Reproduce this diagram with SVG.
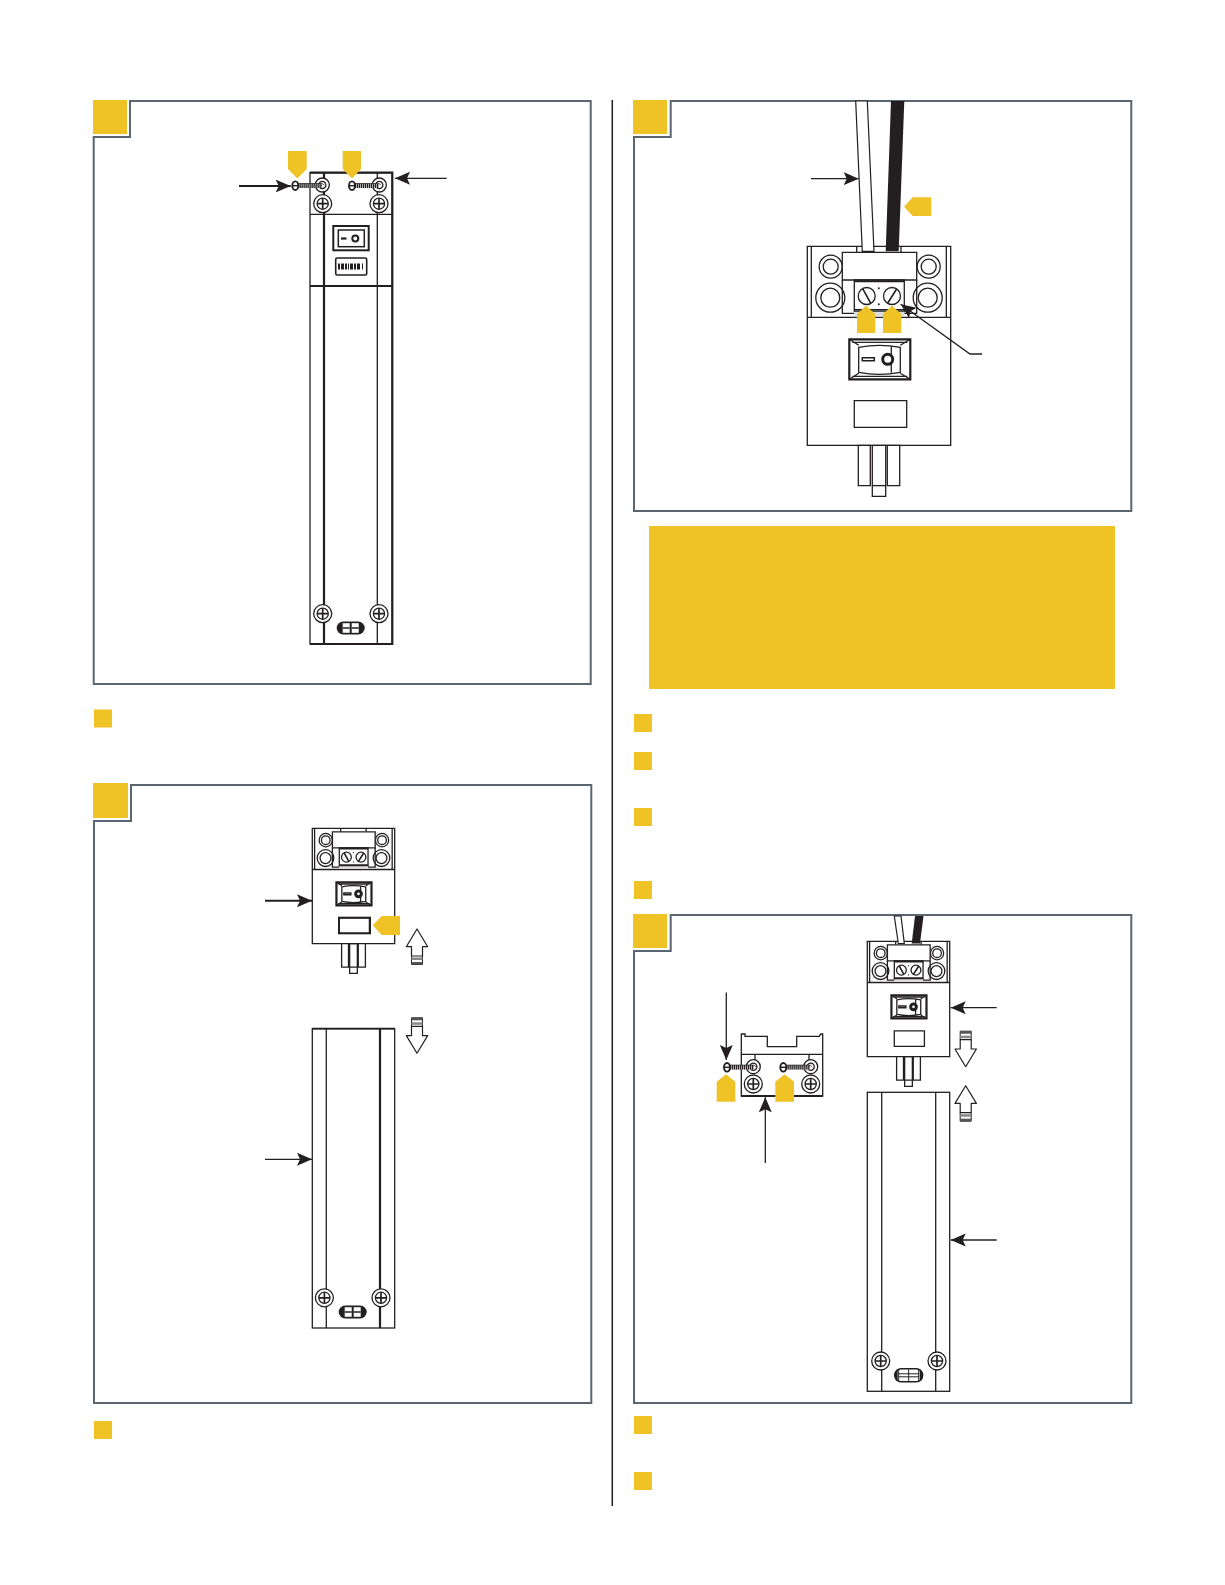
<svg xmlns="http://www.w3.org/2000/svg" xmlns:xlink="http://www.w3.org/1999/xlink" width="1225" height="1585" viewBox="0 0 1225 1585">
<style>
.frame{fill:none;stroke:#5a6670;stroke-width:2}
.y{fill:#efc226}
.k{fill:none;stroke:#231f20;stroke-width:1.3}
.w{fill:#fff;stroke:#231f20;stroke-width:1.3}
.t{fill:none;stroke:#231f20;stroke-width:2.2}
.n{vector-effect:non-scaling-stroke}
.arrow{fill:none;stroke:#231f20;stroke-width:1.3;marker-end:url(#head)}
.arrowb{fill:none;stroke:#231f20;stroke-width:1.9;marker-end:url(#head)}
</style>
<defs>
<marker id="head" markerUnits="userSpaceOnUse" markerWidth="17" markerHeight="14" refX="15" refY="7" orient="auto" viewBox="0 0 17 14"><path d="M0 .5 L15 7 L0 13.5 L3 7Z" fill="#231f20"/></marker>
<g id="ph"><circle r="9" class="w"/><circle r="5.6" class="k"/><path d="M-5.5 0H5.5M0-5.5V5.5" fill="none" stroke="#231f20" stroke-width="1.7"/></g>
<g id="washer"><circle r="7" class="w"/><circle r="3.6" class="k"/></g>
<g id="screw"><path d="M3 0H27" fill="none" stroke="#aaa" stroke-width="4.5"/><path d="M3 0H27" fill="none" stroke="#231f20" stroke-width="4.5" stroke-dasharray="1 1"/><path d="M3 -2.2H27L29-0.5" fill="none" stroke="#231f20" stroke-width=".7"/><ellipse rx="3" ry="4.3" fill="#fff" stroke="#231f20" stroke-width="1.9"/><path d="M-3 0H3" stroke="#231f20" stroke-width="1.4"/></g>
<g id="ovalDark"><rect x="-14" y="-6.5" width="28" height="13" rx="6.5" fill="#231f20"/><rect x="-8" y="-4.8" width="7" height="9.6" fill="#fff"/><rect x="1" y="-4.8" width="7" height="9.6" fill="#fff"/><path d="M-8 0H-1M1 0H8" stroke="#231f20" stroke-width="1.5"/></g>
<g id="ovalLight"><rect x="-14" y="-6.5" width="28" height="13" rx="6.5" fill="#fff" stroke="#231f20" stroke-width="1.4"/><path d="M-10-6V6M10-6V6M0-6V6M-10-1.5H10M-10 1.5H10" stroke="#231f20" stroke-width="1" fill="none"/><path d="M-14 0a3 6 0 0 1 3-6V6a3 6 0 0 1-3-6M14 0a3 6 0 0 0-3-6V6a3 6 0 0 0 3-6" fill="#231f20"/></g>
<g id="up"><path d="M0 0L10.7 17.7H5.5V27H-5.5V17.7H-10.7Z" fill="#fff" stroke="#231f20" stroke-width="1.2" stroke-linejoin="round"/><path d="M-5.5 27V35.5H5.5V27" fill="none" stroke="#231f20" stroke-width="1"/><rect x="-5.5" y="28.5" width="11" height="2.5" fill="#888"/><rect x="-5.5" y="33" width="11" height="2.5" fill="#555"/></g>
<g id="device">
<rect class="w n" width="143.4" height="199"/>
<path class="k n" d="M0 71H143.4M4 0V71M139 0V71M49.4 0V6M93.7 0V6"/>
<circle class="k n" cx="23.4" cy="20.4" r="11.5"/><circle class="k n" cx="23.4" cy="20.4" r="7.5"/>
<circle class="k n" cx="121.4" cy="20.4" r="11.5"/><circle class="k n" cx="121.4" cy="20.4" r="7.5"/>
<circle class="k n" cx="23" cy="51.4" r="14.5"/><circle class="k n" cx="23" cy="51.4" r="9.5"/>
<circle class="k n" cx="120.4" cy="51.4" r="14.5"/><circle class="k n" cx="120.4" cy="51.4" r="9.5"/>
<path class="k n" d="M35 33.7V67H47M109.4 33.7V67H97"/>
<rect class="w n" x="35" y="6" width="74.4" height="27.7"/>
<rect class="k n" x="47" y="33.7" width="50" height="31.7"/>
<path class="n" d="M47 35H97M47 63.5H97" fill="none" stroke="#231f20" stroke-width="1.8"/>
<path d="M47 65.4H97V70H47Z" fill="#ddd"/>
<circle class="k n" cx="59.4" cy="49.7" r="8.5"/><circle class="k n" cx="84.7" cy="49.7" r="8.5"/>
<path class="n" d="M55.5 42.5L63.5 57M80 57.5L89.5 42.5" fill="none" stroke="#231f20" stroke-width="1.6"/>
<circle cx="71.5" cy="42" r="1" fill="#231f20"/><circle cx="71.5" cy="58" r="1" fill="#231f20"/>
<rect class="n" x="42" y="93" width="61" height="40" fill="#fff" stroke="#231f20" stroke-width="2.2"/>
<path class="k n" d="M42 93L51.4 99M103 93L93 99M42 133L51.4 127M103 133L93 127M45 96H100M45 130H100"/>
<path class="k n" d="M51.4 101Q72 97 93 101V126Q72 130 51.4 126ZM84 100.5V126.5"/>
<circle class="n" cx="80.4" cy="113" r="5" fill="#fff" stroke="#231f20" stroke-width="3"/>
<rect class="n" x="55" y="111.5" width="12" height="3" fill="#fff" stroke="#231f20" stroke-width="1.5"/>
<rect class="k n" x="47" y="154.4" width="52.4" height="26.6"/>
<rect class="w n" x="51" y="199" width="12" height="40.4"/>
<rect class="w n" x="80" y="199" width="12.4" height="40.4"/>
<path class="k n" d="M65 199H78.4V250H65ZM65 239.4H78.4"/>
</g>
</defs>
<rect width="1225" height="1585" fill="#fff"/>
<g id="divider"><path d="M612.3 100V1506" stroke="#231f20" stroke-width="1.5" fill="none"/></g>

<g id="panel1">
<path class="frame" d="M130 101H590.7V684H93.7V137H130Z"/>
<rect class="y" x="93" y="100" width="34" height="34"/>
<g id="device1">
<rect class="w" x="310" y="172.7" width="82.3" height="471.3"/>
<path class="t" d="M324 172.7V644"/>
<path class="k" d="M377.3 172.7V644"/>
<path class="t" d="M310 172.7H392.3V644H310"/>
<path class="k" d="M310 214.3H392.3"/><path class="t" d="M310 286H392.3" style="stroke-width:1.8"/>
<use xlink:href="#ph" href="#ph" x="322.7" y="203.7"/><use xlink:href="#ph" href="#ph" x="379" y="203.7"/>
<use xlink:href="#washer" href="#washer" x="322.3" y="185"/><use xlink:href="#washer" href="#washer" x="379.3" y="185"/>
<use xlink:href="#screw" href="#screw" x="295.3" y="185.7"/><use xlink:href="#screw" href="#screw" x="352" y="185.7"/>
<rect x="333.3" y="226" width="35.4" height="24.3" fill="#fff" stroke="#231f20" stroke-width="2"/>
<rect x="338.3" y="230" width="26" height="16.7" fill="#fff" stroke="#231f20" stroke-width="1.5"/>
<path d="M341 238.5H346.5" stroke="#231f20" stroke-width="2.2"/>
<circle cx="355.3" cy="238.5" r="3" fill="#fff" stroke="#231f20" stroke-width="2"/>
<rect x="335.7" y="258" width="31" height="17" rx="1.5" fill="#fff" stroke="#231f20" stroke-width="1.6"/>
<path d="M338 266.5H364" stroke="#231f20" stroke-width="6" stroke-dasharray="2 1 3 1 2 1 1 1 3 1 2 1 3"/>
<use xlink:href="#ph" href="#ph" x="322.7" y="613.7"/><use xlink:href="#ph" href="#ph" x="379" y="613.7"/>
<use xlink:href="#ovalDark" href="#ovalDark" x="350.7" y="628"/>
</g>
<path class="y" d="M288 151H306.7V169L297.3 178.5L288 169Z"/>
<path class="y" d="M342.7 151H361V169L352 178.5L342.7 169Z"/>
</g>

<g id="panel2">
<path class="frame" d="M670.7 101H1131.3V511H634V137H670.7Z"/>
<rect class="y" x="633" y="100" width="34" height="34"/>
<use xlink:href="#device" href="#device" x="807.3" y="246.3"/>
<path d="M855.7 101H867.3L874 251.3H862.3Z" fill="#fff" stroke="#231f20" stroke-width="1.2"/>
<path d="M891 101H904.3L898.7 251.3H885.7Z" fill="#231f20"/>
<path class="y" d="M857 333V314L866 305.7L875.3 314V333Z"/>
<path class="y" d="M883 333V314L892 305.7L901.3 314V333Z"/>
<path class="y" d="M904 206.7L912.7 197.3H931.3V216H912.7Z"/>
</g>

<g id="notice"><rect class="y" x="649" y="526" width="466" height="163"/></g>

<g id="bullets">
<rect class="y" x="94" y="709.5" width="18" height="18"/>
<rect class="y" x="94" y="1421" width="18" height="18"/>
<rect class="y" x="634" y="714" width="18" height="18"/>
<rect class="y" x="634" y="752" width="18" height="18"/>
<rect class="y" x="634" y="808" width="18" height="18"/>
<rect class="y" x="634" y="881" width="18" height="18"/>
<rect class="y" x="634" y="1416" width="18" height="18"/>
<rect class="y" x="634" y="1472" width="18" height="18"/>
</g>

<g id="panel3">
<path class="frame" d="M131 785H591.3V1403H94V821H131Z"/>
<rect class="y" x="93" y="783" width="35" height="35"/>
<g transform="translate(312.3 828.3) scale(.5746 .58)"><use xlink:href="#device" href="#device"/></g>
<rect x="339" y="917.7" width="31" height="15.6" fill="none" stroke="#231f20" stroke-width="2"/>
<path class="y" d="M372.7 925.3L381.7 916H400V935H381.7Z"/>
<use xlink:href="#up" href="#up" x="417" y="929"/>
<use xlink:href="#up" href="#up" transform="translate(417 1053.3) scale(1 -1)"/>
<g id="body3">
<rect class="w" x="312.3" y="1028.7" width="82.4" height="299.3"/>
<path class="t" d="M312.3 1028.7H394.7" style="stroke-width:1.8"/>
<path class="k" d="M326.3 1028.7V1328"/>
<path class="t" d="M380 1028.7V1328"/>
<use xlink:href="#ph" href="#ph" x="324.4" y="1297.8"/><use xlink:href="#ph" href="#ph" x="381" y="1297.8"/>
<use xlink:href="#ovalDark" href="#ovalDark" x="352.7" y="1312"/>
</g>
</g>

<g id="panel4">
<path class="frame" d="M670.7 915H1131.3V1403H634V951H670.7Z"/>
<rect class="y" x="633" y="914" width="34" height="34"/>
<g transform="translate(867.3 941.3) scale(.5746 .58)"><use xlink:href="#device" href="#device"/></g>
<path d="M894.3 916H901L904.3 943.5H898.3Z" fill="#fff" stroke="#231f20" stroke-width="1.2"/>
<path d="M915 916H923.5L920 943.5H911.7Z" fill="#231f20"/>
<use xlink:href="#up" href="#up" transform="translate(965.7 1066.7) scale(1 -1)"/>
<use xlink:href="#up" href="#up" x="965.7" y="1085.7"/>
<g id="body4">
<rect class="w" x="867.3" y="1092.3" width="82.4" height="299"/>
<path class="k" d="M881.7 1092.3V1391.3M935.7 1092.3V1391.3"/>
<use xlink:href="#ph" href="#ph" x="880.7" y="1361"/><use xlink:href="#ph" href="#ph" x="937" y="1361"/>
<use xlink:href="#ovalLight" href="#ovalLight" x="908.7" y="1375.3"/>
</g>
<g id="bracket">
<path class="w" d="M741.3 1096V1034H745V1036.3H767.3V1046.7H796.7V1036.3H819.3L820.7 1034H822.7V1096Z"/>
<path class="k" d="M741.3 1054.3H822.7M755 1054.3V1060M809 1054.3V1060"/>
<path class="t" d="M741.3 1096H822.7"/>
<use xlink:href="#ph" href="#ph" x="753.3" y="1084"/><use xlink:href="#ph" href="#ph" x="810.7" y="1084"/>
<use xlink:href="#washer" href="#washer" x="753.3" y="1066.7"/><use xlink:href="#washer" href="#washer" x="810.7" y="1066.7"/>
<use xlink:href="#screw" href="#screw" x="727" y="1067.3"/><use xlink:href="#screw" href="#screw" x="783.3" y="1067.3"/>
</g>
<path class="y" d="M716.7 1101.7V1081.7L726 1074.3L735.3 1081.7V1101.7Z"/>
<path class="y" d="M775.3 1101.7V1081.7L784.6 1074.3L794 1081.7V1101.7Z"/>
</g>

<g id="connectors">
<path class="arrowb" d="M239 186H290.7"/>
<path class="arrow" d="M446.7 178.3H395"/>
<path class="arrow" d="M811 178.7H858.7"/>
<path class="arrow" d="M982 354H970L900.7 304.3"/>
<path class="arrowb" d="M265 900.7H312"/>
<path class="arrow" d="M265 1159.3H312"/>
<path class="arrow" d="M726.3 992.5V1060"/>
<path class="arrow" d="M765.3 1163V1097.3"/>
<path class="arrow" d="M996.7 1007.7H950.7"/>
<path class="arrow" d="M996.7 1240H950.7"/>
</g>
</svg>
